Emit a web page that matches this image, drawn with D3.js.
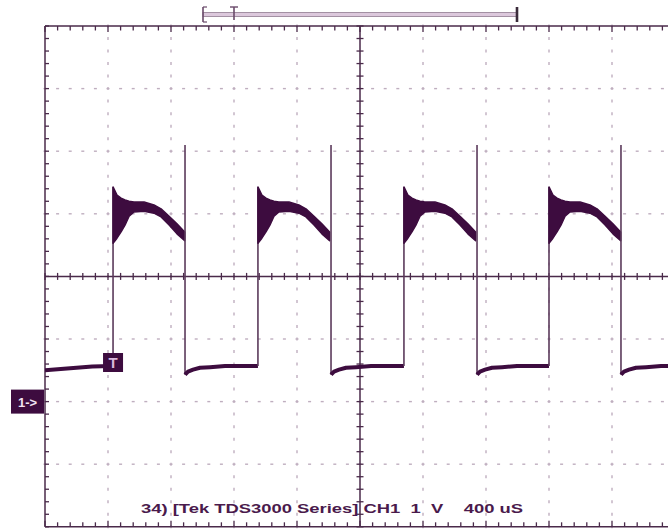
<!DOCTYPE html>
<html><head><meta charset="utf-8">
<script src="https://cdn.jsdelivr.net/npm/d3@7"></script>
<style>html,body{margin:0;padding:0;background:#fff;}svg{display:block;}</style>
</head><body>
<svg id="c" width="668" height="531"></svg>
<script>
// ---- data (time in µs, voltage in V) ----
const timePerDivUs = 400;
const voltsPerDiv = 1;
const riseTimes = [432, 1352, 2279, 3200];
const fallTimes = [889, 1816, 2743, 3657];
const spikeVolts = [4.1, 4.1, 4.1, 4.1];
// high phase envelope, time relative to rising edge
const highRelT   = [0, 25, 51, 76, 102, 133, 197, 260, 305, 356, 406, 455];
const highUpperV = [3.43, 3.30, 3.25, 3.22, 3.20, 3.19, 3.19, 3.14, 3.08, 2.96, 2.84, 2.71];
const highLowerV = [2.53, 2.61, 2.71, 2.82, 2.96, 3.03, 3.04, 3.01, 2.95, 2.82, 2.68, 2.57];
// low phase, time relative to falling edge
const lowRelT = [0, 19, 51, 95, 159, 254, 360];
const lowV    = [0.43, 0.48, 0.51, 0.54, 0.55, 0.57, 0.57];
// initial low segment before first trigger
const startT = [0, 100, 200, 300, 420];
const startV = [0.50, 0.52, 0.54, 0.56, 0.57];
const bottomLabel = "34) [Tek TDS3000 Series] CH1  1  V    400 uS";
const groundLabel = "1->";
const trigLabel = "T";

// ---- layout ----
const svg = d3.select("#c");
const L = 45, T = 26, B = 526.8, R = 675;
const x = d3.scaleLinear().domain([0, 10 * timePerDivUs]).range([L, R]);
const y = d3.scaleLinear().domain([-2 * voltsPerDiv, 6 * voltsPerDiv]).range([B, T]);
const gridCol = "#bfaebf", axisCol = "#4a2a4a", traceCol = "#3d0c3f", edgeCol = "#5b3a5b";

svg.append("rect").attr("width", 668).attr("height", 531).attr("fill", "#fff");
svg.append("defs").append("clipPath").attr("id", "clip")
  .append("rect").attr("x", L).attr("y", T).attr("width", R - L).attr("height", B - T);

const g = svg.append("g");
const majorT = d3.range(0, 10 * timePerDivUs + 1, timePerDivUs);
const majorV = d3.range(-2, 7, 1);
const minorT = d3.range(0, 10 * timePerDivUs + 1, timePerDivUs / 5);
const minorV = d3.range(-2, 6.01, 0.2);

// dotted graticule
majorV.forEach(v => {
  if (v === 2 || v === -2 || v === 6) return;
  minorT.forEach(t => {
    g.append("line").attr("x1", x(t) - 1.5).attr("x2", x(t) + 1.5)
      .attr("y1", y(v)).attr("y2", y(v)).attr("stroke", gridCol).attr("stroke-width", 1.4);
  });
});
majorT.forEach(t => {
  if (t === 0 || t === 2000) return;
  minorV.forEach(v => {
    g.append("line").attr("x1", x(t)).attr("x2", x(t))
      .attr("y1", y(v) - 1.5).attr("y2", y(v) + 1.5).attr("stroke", gridCol).attr("stroke-width", 1.4);
  });
});

// border
g.append("line").attr("x1", L).attr("x2", 668).attr("y1", T).attr("y2", T).attr("stroke", axisCol).attr("stroke-width", 1.5);
g.append("line").attr("x1", L).attr("x2", 668).attr("y1", B).attr("y2", B).attr("stroke", axisCol).attr("stroke-width", 1.5);
g.append("line").attr("x1", L).attr("x2", L).attr("y1", T).attr("y2", B).attr("stroke", axisCol).attr("stroke-width", 1.5);
minorT.forEach(t => {
  const big = Math.abs(t % timePerDivUs) < 1e-6;
  g.append("line").attr("x1", x(t)).attr("x2", x(t)).attr("y1", T).attr("y2", T + (big ? 6 : 4.5))
    .attr("stroke", axisCol).attr("stroke-width", 1.3);
  g.append("line").attr("x1", x(t)).attr("x2", x(t)).attr("y1", B).attr("y2", B - (big ? 6 : 4.5))
    .attr("stroke", axisCol).attr("stroke-width", 1.3);
});
minorV.forEach(v => {
  g.append("line").attr("x1", L).attr("x2", L + 4).attr("y1", y(v)).attr("y2", y(v))
    .attr("stroke", axisCol).attr("stroke-width", 1.3);
});

// center axes
g.append("line").attr("x1", L).attr("x2", 668).attr("y1", y(2)).attr("y2", y(2)).attr("stroke", axisCol).attr("stroke-width", 1.5);
g.append("line").attr("x1", x(2000)).attr("x2", x(2000)).attr("y1", T).attr("y2", B).attr("stroke", axisCol).attr("stroke-width", 1.5);
minorT.forEach(t => {
  g.append("line").attr("x1", x(t)).attr("x2", x(t)).attr("y1", y(2) - 3.5).attr("y2", y(2) + 3.5)
    .attr("stroke", axisCol).attr("stroke-width", 1.3);
});
minorV.forEach(v => {
  g.append("line").attr("x1", x(2000) - 3.5).attr("x2", x(2000) + 3.5).attr("y1", y(v)).attr("y2", y(v))
    .attr("stroke", axisCol).attr("stroke-width", 1.3);
});

// bottom label
svg.append("text").attr("x", 141).attr("y", 513)
  .attr("font-family", "Liberation Sans, Arial, sans-serif").attr("font-weight", "bold")
  .attr("font-size", 12.5).attr("fill", "#4a1a4c").attr("textLength", 382)
  .attr("lengthAdjust", "spacingAndGlyphs").style("white-space", "pre").text(bottomLabel);

// ---- trace ----
const tr = svg.append("g").attr("clip-path", "url(#clip)");
const line = d3.line().x(d => x(d[0])).y(d => y(d[1]));
const area = d3.area().x(d => x(d[0])).y0(d => y(d[1])).y1(d => y(d[2]));

// initial low segment
tr.append("path").attr("d", line(startT.map((t, i) => [t, startV[i]])))
  .attr("fill", "none").attr("stroke", traceCol).attr("stroke-width", 4).attr("stroke-linejoin", "round");

riseTimes.forEach((rt, i) => {
  const ft = fallTimes[i];
  const hi = highRelT.map((d, k) => [rt + d, highLowerV[k], highUpperV[k]]).filter(d => d[0] <= ft);
  tr.append("line").attr("x1", x(rt)).attr("x2", x(rt)).attr("y1", y(0.57)).attr("y2", y(highUpperV[0]))
    .attr("stroke", edgeCol).attr("stroke-width", 1.6);
  tr.append("path").attr("d", area(hi)).attr("fill", traceCol).attr("stroke", traceCol)
    .attr("stroke-width", 1.5).attr("stroke-linejoin", "round");
  tr.append("line").attr("x1", x(ft)).attr("x2", x(ft)).attr("y1", y(spikeVolts[i])).attr("y2", y(lowV[0]))
    .attr("stroke", edgeCol).attr("stroke-width", 1.6);
  const next = i + 1 < riseTimes.length ? riseTimes[i + 1] : 10 * timePerDivUs;
  const lo = lowRelT.map((d, k) => [ft + d, lowV[k]]).filter(d => d[0] < next);
  lo.push([next, lowV[lowV.length - 1]]);
  tr.append("path").attr("d", line(lo)).attr("fill", "none").attr("stroke", traceCol)
    .attr("stroke-width", 4).attr("stroke-linejoin", "round");
});

// trigger marker
svg.append("rect").attr("x", x(riseTimes[0]) - 10).attr("y", 353).attr("width", 20).attr("height", 19).attr("fill", traceCol);
svg.append("text").attr("x", x(riseTimes[0])).attr("y", 368).attr("text-anchor", "middle")
  .attr("font-family", "Liberation Sans, Arial, sans-serif").attr("font-weight", "bold").attr("font-size", 15)
  .attr("fill", "#d9b8dc").text(trigLabel);

// ground marker
svg.append("rect").attr("x", 11).attr("y", y(0) - 12).attr("width", 33).attr("height", 24).attr("fill", traceCol);
svg.append("text").attr("x", 27.5).attr("y", y(0) + 5).attr("text-anchor", "middle")
  .attr("font-family", "Liberation Sans, Arial, sans-serif").attr("font-weight", "bold").attr("font-size", 13)
  .attr("fill", "#f2e4f2").text(groundLabel);

// record-length bar at top
const topBar = svg.append("g");
topBar.append("rect").attr("x", 203).attr("y", 12.5).attr("width", 314).attr("height", 4)
  .attr("fill", "#dcc8dc").attr("stroke", "#a390a3").attr("stroke-width", 1);
topBar.append("line").attr("x1", 203).attr("x2", 203).attr("y1", 7).attr("y2", 22).attr("stroke", "#6a4a6a").attr("stroke-width", 1.6);
topBar.append("line").attr("x1", 203).attr("x2", 207).attr("y1", 7).attr("y2", 7).attr("stroke", "#6a4a6a").attr("stroke-width", 1.2);
topBar.append("line").attr("x1", 203).attr("x2", 207).attr("y1", 22).attr("y2", 22).attr("stroke", "#6a4a6a").attr("stroke-width", 1.2);
topBar.append("line").attr("x1", 234).attr("x2", 234).attr("y1", 7).attr("y2", 20).attr("stroke", "#6a4a6a").attr("stroke-width", 1.6);
topBar.append("line").attr("x1", 230).attr("x2", 238).attr("y1", 7).attr("y2", 7).attr("stroke", "#6a4a6a").attr("stroke-width", 1.4);
topBar.append("line").attr("x1", 517).attr("x2", 517).attr("y1", 7).attr("y2", 22).attr("stroke", "#3a2a3a").attr("stroke-width", 2.6);
</script>
</body></html>
